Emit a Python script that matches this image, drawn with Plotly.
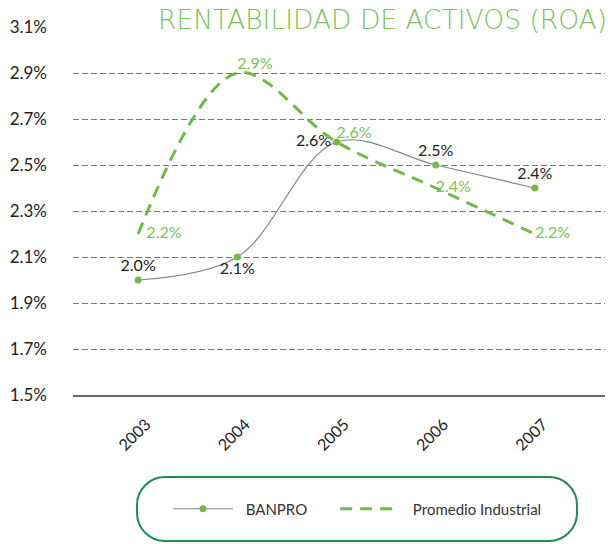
import plotly.graph_objects as go

# ROA data (percent)
years = [2003, 2004, 2005, 2006, 2007]
banpro = [2.0, 2.1, 2.6, 2.5, 2.4]
promedio = [2.2, 2.9, 2.6, 2.4, 2.2]
y_ticks = [1.5, 1.7, 1.9, 2.1, 2.3, 2.5, 2.7, 2.9, 3.1]

GREEN = "#72b84a"
LABEL_GREEN = "#7cc15c"
GRAY = "#858585"
FONT = "Lato"
NBSP = "\u00a0"

W, H = 608, 544
L, R, T, B = 73, 3, 27, 149


def px_x(x):
    return (x - L) / (W - L - R)


def px_y(y):
    return (H - B - y) / (H - T - B)


def pill_path(x0, y0, x1, y1, r):
    # rounded rectangle given in pixels, converted to paper coords
    k = 0.5523 * r
    pts = [
        ("M", [(x0 + r, y0)]),
        ("L", [(x1 - r, y0)]),
        ("C", [(x1 - r + k, y0), (x1, y0 + r - k), (x1, y0 + r)]),
        ("L", [(x1, y1 - r)]),
        ("C", [(x1, y1 - r + k), (x1 - r + k, y1), (x1 - r, y1)]),
        ("L", [(x0 + r, y1)]),
        ("C", [(x0 + r - k, y1), (x0, y1 - r + k), (x0, y1 - r)]),
        ("L", [(x0, y0 + r)]),
        ("C", [(x0, y0 + r - k), (x0 + r - k, y0), (x0 + r, y0)]),
    ]
    out = []
    for cmd, coords in pts:
        out.append(cmd + " ".join(f"{px_x(a):.5f},{px_y(b):.5f}" for a, b in coords))
    return " ".join(out) + " Z"


prom_text = [f"{v:.1f}%" for v in promedio]
prom_text[0] = NBSP * 2 + prom_text[0]

fig = go.Figure()

fig.add_trace(go.Scatter(
    x=years, y=banpro,
    name=NBSP * 2 + "BANPRO" + NBSP * 6,
    mode="lines+markers+text",
    line=dict(color=GRAY, width=1.2, shape="spline", smoothing=1),
    marker=dict(color=GREEN, size=7),
    text=[f"{v:.1f}%" for v in banpro],
    textposition=["top center", "bottom center", "middle left", "top center", "top center"],
    textfont=dict(family=FONT, size=16, color="#222222"),
    cliponaxis=False,
))

fig.add_trace(go.Scatter(
    x=years, y=promedio,
    name=NBSP * 2 + "Promedio Industrial",
    mode="lines+text",
    line=dict(color=GREEN, width=3, dash="12px,8px", shape="spline", smoothing=1),
    text=prom_text,
    textposition=["middle right", "top right", "top right", "middle right", "middle right"],
    textfont=dict(family=FONT, size=16, color=LABEL_GREEN),
    cliponaxis=False,
))

fig.update_layout(
    width=W, height=H,
    margin=dict(l=L, r=R, t=T, b=B),
    plot_bgcolor="white",
    paper_bgcolor="white",
    font=dict(family=FONT, size=17, color="#222222"),
    showlegend=True,
    legend=dict(
        orientation="h",
        x=px_x(168), xanchor="left",
        y=px_y(509), yanchor="middle",
        font=dict(family=FONT, size=15, color="#333333"),
        itemwidth=60,
        bgcolor="rgba(0,0,0,0)",
    ),
    annotations=[dict(
        text="RENTABILIDAD DE ACTIVOS (ROA)",
        xref="paper", yref="paper",
        x=px_x(620), y=px_y(20),
        xanchor="right", yanchor="middle",
        showarrow=False,
        font=dict(family="DejaVu Sans", size=26.5, weight=200, color=LABEL_GREEN),
        bgcolor="white",
        borderpad=12,
    )],
    shapes=[dict(
        type="path",
        xref="paper", yref="paper",
        path=pill_path(137, 477, 577, 541, 28),
        line=dict(color="#1f8c55", width=2),
        fillcolor="rgba(0,0,0,0)",
        layer="above",
    )],
)

fig.update_xaxes(
    range=[2002.343, 2007.707],
    tickvals=years,
    ticktext=[str(y) for y in years],
    tickangle=-45,
    tickfont=dict(family=FONT, size=16, color="#222222"),
    ticklabelstandoff=12,
    ticklabelshift=8,
    showgrid=False,
    zeroline=False,
    showline=True,
    linecolor="#666666",
    linewidth=1.5,
)

fig.update_yaxes(
    range=[1.5, 3.1],
    tickvals=y_ticks,
    ticktext=[f"{v:.1f}%" for v in y_ticks],
    tickfont=dict(family=FONT, size=17, color="#222222"),
    showgrid=True,
    gridcolor="#777777",
    gridwidth=1,
    griddash="6px,3px",
    zeroline=False,
    showline=False,
    ticklabelstandoff=25,
)

# drop the browser's default 8px body margin so the figure sits at the page origin
fig.write_html(
    "out.html",
    config={"displayModeBar": False},
    post_script="document.body.style.margin = '0';",
)
